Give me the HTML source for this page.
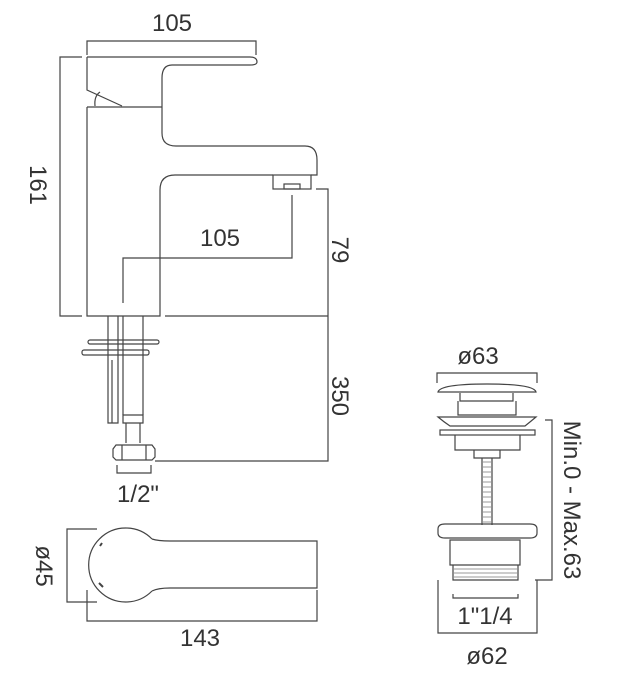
<!DOCTYPE html>
<html><head><meta charset="utf-8"><style>
html,body{margin:0;padding:0;background:#fff;}
svg{display:block;}
text{font-family:"Liberation Sans Narrow","Liberation Sans",sans-serif;fill:#333;font-size:24px;}
</style></head><body>
<svg width="622" height="697" viewBox="0 0 622 697" xmlns="http://www.w3.org/2000/svg">
<g fill="none" stroke="#444" stroke-width="1.2">
<path d="M87 55 V41 H256 V55"/>
<path d="M82 57 H60 V316 H82"/>
<path d="M87 57 H250 Q257 57 257 62 Q257 65 250 65 H172 Q162 65 162 78 V106"/>
<path d="M87 57 V90 L122 106"/>
<path d="M100 92 Q94 96 95 106"/>
<path d="M87 107 H162"/>
<path d="M87 107 V316 H160 V190 Q160 175 175 175 H273"/>
<path d="M162 106 V133 Q162 146 176 146 H305 Q317 146 317 160 V175 H311"/>
<rect x="273" y="175" width="38" height="14"/>
<rect x="284" y="184" width="16" height="5"/>
<path d="M292 195 V258 H123 V303"/>
<path d="M316 189 H328 V461 H155"/>
<path d="M165 316 H328"/>
<path d="M108 316 V423 H118 V316"/>
<path d="M112 360 V423"/>
<path d="M123 316 V415 M143 316 V415"/>
<rect x="88" y="340" width="71" height="4" rx="2"/>
<rect x="82" y="350" width="67" height="5" rx="2"/>
<path d="M123 415 H143 V423 H123 Z M126 423 V443 M140 423 V443"/>
<path d="M116 445 H152 L155 449 V457 L152 460 H116 L113 457 V449 Z M122 445 V460 M146 445 V460"/>
<path d="M117 465 V473 H151 V465"/>
<!-- plan view -->
<path d="M152 539 A37 37 0 1 0 152 591"/>
<path d="M152 539 Q158 541 170 541 H317 V588 H170 Q158 588 152 591"/>
<path d="M97 529 H67 V602 H97"/>
<path d="M87 590 V621 H317 V590"/>
<path d="M100 546 L102 543 M99 583 L103 587" stroke-width="2"/>
<!-- waste -->
<path d="M437 383 V373 H537 V383"/>
<path d="M438 392 Q440 384 487 384 Q534 384 536 392 Z"/>
<path d="M460 393 V401 H513 V393 M458 401 V415 H516 V401"/>
<path d="M438 417 H536 Q530 422 525 426 H450 Q444 422 438 417 Z"/>
<rect x="440" y="430" width="95" height="5"/>
<path d="M455 435 V450 H520 V435"/>
<path d="M474 450 V458 H500 V450"/>
<path d="M482 458 V525 M492 458 V525"/>
<path d="M438 529 Q438 524 445 524 H530 Q537 524 537 529 V533 Q537 538 530 538 H445 Q438 538 438 533 Z"/>
<path d="M450 540 H520 V565 H450 Z"/>
<path d="M453 565 V580 H518 V565"/>
<path d="M453 594 V598 H518 V594"/>
<path d="M438 580 V633 H537 V580"/>
<path d="M545 420 H552 V580 H535"/>
</g>
<g stroke="#777" stroke-width="0.8">
<path d="M483 462 H491 M483 467 H491 M483 472 H491 M483 477 H491 M483 482 H491 M483 487 H491 M483 492 H491 M483 497 H491 M483 502 H491 M483 507 H491 M483 512 H491 M483 517 H491 M483 522 H491"/>
<path d="M454 569 H517 M454 573 H517 M454 577 H517"/>
</g>
<text x="172" y="31" text-anchor="middle">105</text>
<text x="220" y="246" text-anchor="middle">105</text>
<text transform="translate(30 185) rotate(90)" text-anchor="middle">161</text>
<text transform="translate(332 250) rotate(90)" text-anchor="middle">79</text>
<text transform="translate(332 396) rotate(90)" text-anchor="middle">350</text>
<text x="138" y="502" text-anchor="middle">1/2"</text>
<text transform="translate(36 566) rotate(90)" text-anchor="middle">ø45</text>
<text x="200" y="646" text-anchor="middle">143</text>
<text x="478" y="364" text-anchor="middle">ø63</text>
<text x="485" y="624" text-anchor="middle">1"1/4</text>
<text x="487" y="664" text-anchor="middle">ø62</text>
<text transform="translate(564 500) rotate(90)" text-anchor="middle">Min.0 - Max.63</text>
</svg>
</body></html>
